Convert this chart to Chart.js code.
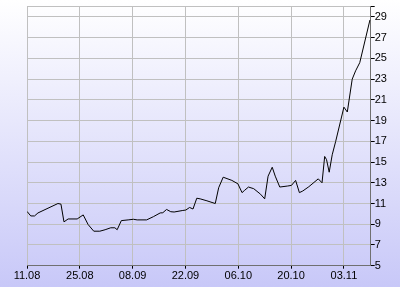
<!DOCTYPE html>
<html>
<head>
<meta charset="utf-8">
<script src="https://cdn.jsdelivr.net/npm/chart.js@4"></script>
<style>
  html, body { margin: 0; padding: 0; }
  body { width: 400px; height: 287px; background: linear-gradient(#ffffff, #c8c8f8); overflow: hidden; }
  canvas { display: block; }
</style>
</head>
<body>
<canvas id="lineChart" width="400" height="287"></canvas>
<script>
// days since 11.08
const days = [0, 1, 2, 2.9, 8.2, 9, 9.8, 10.9, 13.3, 14.9, 16.2, 17.7, 19.3, 20.7, 22.2, 23.3, 23.9,
  25, 26.8, 28.2, 29.2, 31.7, 33.5, 35.3, 36, 37, 38.1, 39, 41.3, 42.1, 43.1, 44, 45, 45.9, 47.7,
  49.9, 50.8, 52, 54.3, 55.9, 57, 57.7, 58.7, 60.1, 61.9, 63, 63.9, 65, 65.8, 67, 69.1, 70.1, 71.2,
  72.2, 73.1, 74.7, 77.2, 78.2, 78.9, 79.4, 80.1, 80.9, 81.8, 84, 84.9, 86.2, 87.1, 88.2, 90.9];
const values = [10.24, 9.8, 9.8, 10.09, 11.0, 10.94, 9.23, 9.51, 9.51, 9.9, 8.97, 8.33, 8.33, 8.47, 8.66, 8.66, 8.47,
  9.35, 9.42, 9.48, 9.42, 9.42, 9.73, 10.09, 10.11, 10.43, 10.21, 10.18, 10.33, 10.37, 10.62, 10.47, 11.51, 11.45, 11.26,
  11.0, 12.52, 13.54, 13.23, 12.9, 12.05, 12.28, 12.59, 12.43, 11.9, 11.45, 13.64, 14.5, 13.64, 12.59, 12.69, 12.75, 13.23,
  12.05, 12.21, 12.62, 13.38, 13.0, 15.54, 15.23, 14.02, 15.7, 16.97, 20.3, 19.83, 23.0, 23.8, 24.59, 28.71];

const xTickDays = [0, 14, 28, 42, 56, 70, 84];
const xTickLabels = ['11.08', '25.08', '08.09', '22.09', '06.10', '20.10', '03.11'];
const yTicks = [5, 7, 9, 11, 13, 15, 17, 19, 21, 23, 25, 27, 29];

const points = days.map((d, i) => ({ x: d, y: values[i] }));

const ctx = document.getElementById('lineChart');
const chart = new Chart(ctx, {
  type: 'line',
  data: {
    datasets: [{
      data: points,
      borderColor: '#000000',
      borderWidth: 1,
      pointRadius: 0,
      tension: 0,
      fill: false
    }]
  },
  options: {
    responsive: false,
    animation: false,
    events: [],
    layout: { padding: { left: 27, top: 3, right: 0, bottom: 0 } },
    plugins: { legend: { display: false }, tooltip: { enabled: false } },
    scales: {
      x: {
        type: 'linear',
        min: 0,
        max: 91.1,
        afterBuildTicks: (s) => { s.ticks = xTickDays.map(v => ({ value: v })); },
        afterFit: (s) => { s.height = 21.3; },
        grid: { color: '#c0c0c0', tickColor: '#000000', tickLength: 3 },
        border: { color: '#707070', width: 1 },
        ticks: {
          color: '#000000',
          padding: 1,
          maxRotation: 0,
          autoSkip: false,
          font: { family: 'Liberation Sans', size: 11 },
          callback: (v) => xTickLabels[xTickDays.indexOf(v)] || ''
        }
      },
      y: {
        position: 'right',
        min: 5,
        max: 30,
        afterBuildTicks: (s) => { s.ticks = yTicks.concat([30]).map(v => ({ value: v })); },
        afterFit: (s) => { s.width = 29.3; },
        grid: { color: '#c0c0c0', tickColor: '#000000', tickLength: 4 },
        border: { color: '#707070', width: 1 },
        ticks: {
          color: '#000000',
          padding: 0,
          font: { family: 'Liberation Sans', size: 11 },
          callback: (v) => yTicks.includes(v) ? String(v) : ''
        }
      }
    }
  }
});
</script>
</body>
</html>
